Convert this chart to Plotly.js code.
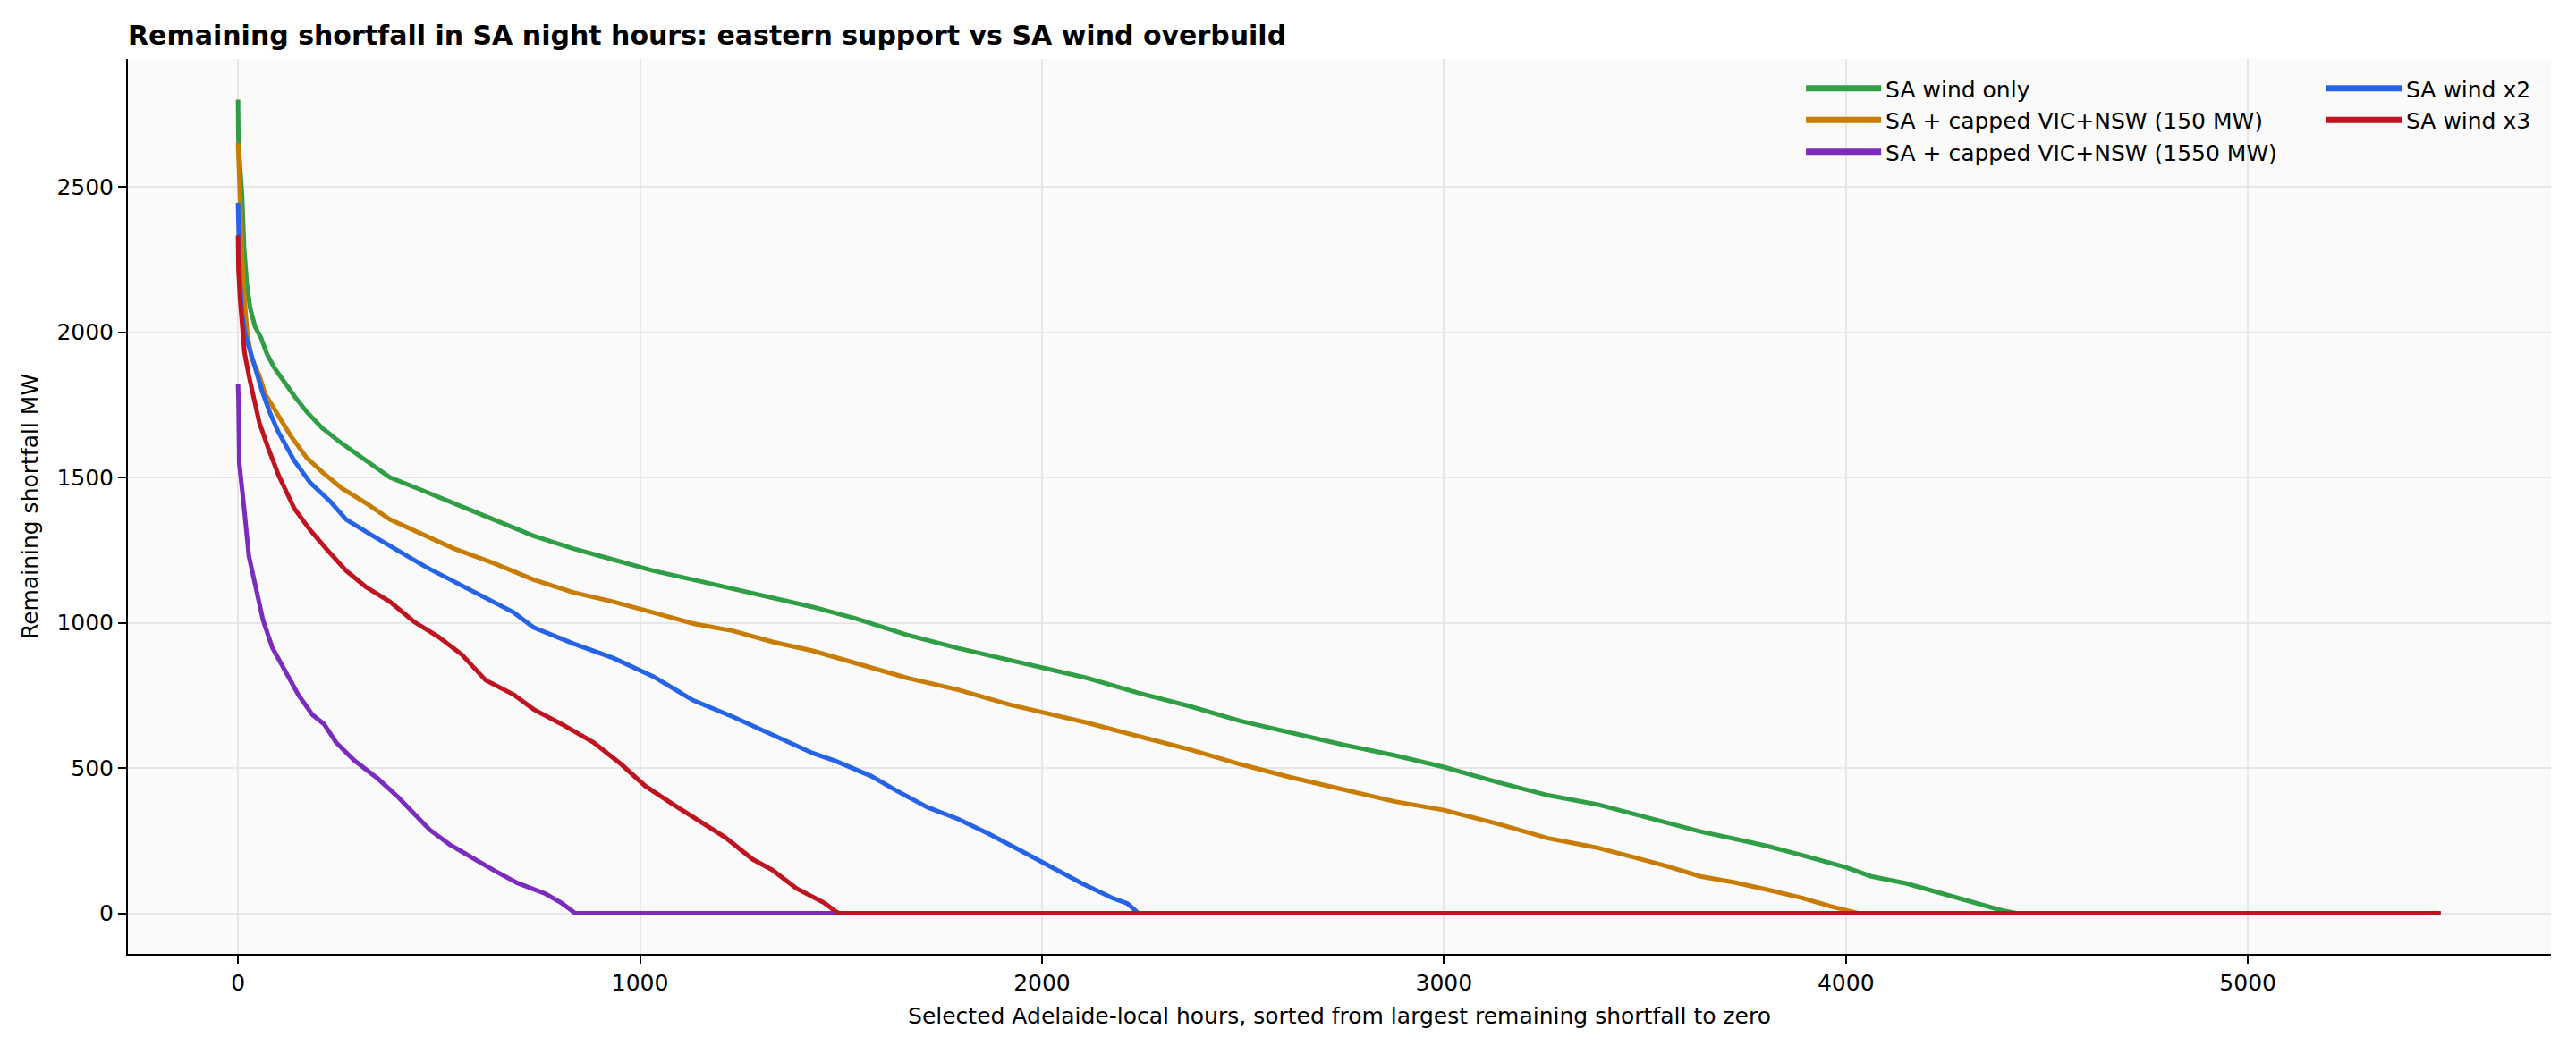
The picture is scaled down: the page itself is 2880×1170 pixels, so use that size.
<!DOCTYPE html>
<html>
<head>
<meta charset="utf-8">
<script src="https://cdn.plot.ly/plotly-3.0.1.min.js"></script>
<style>
  html, body { margin: 0; padding: 0; background: #ffffff; }
  #chart { width: 2880px; height: 1170px; }
</style>
</head>
<body>
<div id="chart"></div>
<script>
// sorted remaining shortfall curves (hours index, MW)
const windOnlyX = [0, 1, 5, 10, 15, 22, 30, 42, 57, 72, 90, 116, 142, 172, 209, 253, 318, 378, 457, 537, 636, 735, 834, 934, 1033, 1132, 1231, 1330, 1430, 1537, 1664, 1792, 1919, 2000, 2111, 2238, 2366, 2493, 2621, 2749, 2876, 3000, 3131, 3259, 3383, 3468, 3553, 3638, 3723, 3808, 3893, 4000, 4063, 4149, 4234, 4319, 4387, 4425, 5479];
const windOnlyY = [2800, 2660, 2566, 2474, 2289, 2166, 2084, 2020, 1981, 1925, 1878, 1827, 1776, 1724, 1670, 1622, 1557, 1500, 1456, 1412, 1355, 1299, 1255, 1217, 1179, 1148, 1116, 1085, 1054, 1014, 958, 912, 871, 846, 810, 759, 713, 662, 621, 580, 544, 503, 452, 406, 374, 343, 312, 281, 256, 230, 199, 158, 127, 103, 70, 37, 10, 0, 0];

const cap150X = [0, 2, 6, 12, 18, 23, 34, 53, 68, 90, 130, 170, 209, 259, 318, 378, 457, 537, 636, 735, 834, 934, 1033, 1132, 1231, 1330, 1430, 1537, 1664, 1792, 1919, 2000, 2111, 2238, 2366, 2493, 2621, 2749, 2876, 3000, 3131, 3259, 3383, 3468, 3553, 3638, 3723, 3808, 3893, 3961, 4021, 4030, 5479];
const cap150Y = [2650, 2560, 2400, 2200, 2080, 1991, 1909, 1850, 1786, 1735, 1645, 1569, 1519, 1462, 1412, 1355, 1305, 1255, 1205, 1148, 1104, 1072, 1035, 997, 972, 934, 903, 861, 810, 769, 718, 692, 656, 610, 564, 513, 467, 426, 385, 355, 309, 258, 225, 194, 163, 127, 106, 80, 52, 24, 5, 0, 0];

const cap1550X = [0, 1, 3, 10, 16, 27, 46, 62, 85, 120, 150, 185, 214, 244, 289, 348, 398, 442, 477, 527, 586, 636, 695, 765, 805, 839, 5479];
const cap1550Y = [1820, 1780, 1550, 1440, 1382, 1229, 1104, 1010, 915, 827, 752, 683, 651, 588, 526, 463, 400, 337, 287, 236, 186, 148, 104, 67, 35, 0, 0];

const windX2X = [0, 1, 4, 10, 18, 27, 46, 60, 79, 100, 140, 180, 229, 269, 328, 408, 467, 537, 606, 686, 735, 834, 934, 1033, 1132, 1231, 1330, 1430, 1486, 1575, 1639, 1715, 1792, 1868, 1945, 2021, 2098, 2174, 2213, 2240, 5479];
const windX2Y = [2445, 2330, 2200, 2060, 1990, 1950, 1855, 1796, 1724, 1657, 1557, 1481, 1418, 1355, 1305, 1242, 1192, 1142, 1091, 1035, 984, 928, 878, 815, 733, 676, 614, 551, 524, 472, 421, 365, 324, 273, 217, 161, 104, 53, 33, 0, 0];

const windX3X = [0, 1, 5, 10, 16, 27, 41, 53, 75, 101, 140, 180, 219, 269, 318, 378, 438, 497, 557, 616, 686, 735, 805, 884, 953, 1013, 1082, 1142, 1211, 1280, 1330, 1390, 1459, 1489, 1497, 5479];
const windX3Y = [2333, 2217, 2114, 2010, 1930, 1850, 1755, 1688, 1601, 1507, 1393, 1318, 1255, 1179, 1123, 1072, 1003, 953, 890, 802, 752, 702, 651, 588, 513, 438, 375, 324, 262, 186, 148, 85, 35, 4, 0, 0];

const seriesNames = ['SA wind only', 'SA + capped VIC+NSW (150 MW)', 'SA + capped VIC+NSW (1550 MW)', 'SA wind x2', 'SA wind x3'];
const seriesColors = ['#2f9e44', '#c87c02', '#7b2cbf', '#2563eb', '#c1121f'];
const legendIds = ['legend', 'legend', 'legend', 'legend2', 'legend2'];

const xTicks = [0, 1000, 2000, 3000, 4000, 5000];
const yTicks = [0, 500, 1000, 1500, 2000, 2500];

const makeLine = (x, y, i) => ({
    x: x,
    y: y,
    name: seriesNames[i],
    type: 'scatter',
    mode: 'lines',
    line: {color: seriesColors[i], width: 5},
    showlegend: false,
    hoverinfo: 'x+y+name',
});

// legend handles are drawn thicker than the data lines, like the original
const makeKey = (i) => ({
    x: [null],
    y: [null],
    name: seriesNames[i],
    type: 'scatter',
    mode: 'lines',
    line: {color: seriesColors[i], width: 7},
    legend: legendIds[i],
    hoverinfo: 'skip',
});

const data = [
    makeLine(windOnlyX, windOnlyY, 0),
    makeLine(cap150X, cap150Y, 1),
    makeLine(cap1550X, cap1550Y, 2),
    makeLine(windX2X, windX2Y, 3),
    makeLine(windX3X, windX3Y, 4),
].concat(seriesNames.map((n, i) => makeKey(i)));

const legendBase = {
    y: 0.99,
    yanchor: 'top',
    xanchor: 'left',
    bgcolor: 'rgba(0,0,0,0)',
    font: {size: 25, color: '#000000'},
    tracegroupgap: 0,
    itemwidth: 84,
};

const layout = {
    width: 2880,
    height: 1170,
    font: {family: 'DejaVu Sans', color: '#000000', size: 25},
    title: {
        text: '<b>Remaining shortfall in SA night hours: eastern support vs SA wind overbuild</b>',
        font: {size: 30, family: 'DejaVu Sans', color: '#000000'},
        xref: 'paper',
        x: 0,
        xanchor: 'left',
        yref: 'container',
        y: 0.966,
        yanchor: 'middle',
    },
    showlegend: true,
    legend: {...legendBase, x: 0.6907},
    legend2: {...legendBase, x: 0.9055},
    xaxis: {
        range: [-274, 5754],
        tickvals: xTicks,
        ticks: 'outside',
        ticklen: 9,
        tickwidth: 2,
        tickcolor: '#000000',
        showline: true,
        linecolor: '#000000',
        linewidth: 2,
        showgrid: true,
        gridcolor: '#e6e6e6',
        gridwidth: 1.5,
        zeroline: false,
        tickfont: {size: 25},
        title: {
            text: 'Selected Adelaide-local hours, sorted from largest remaining shortfall to zero',
            font: {size: 25},
            standoff: 14,
        },
    },
    yaxis: {
        range: [-140, 2940],
        tickvals: yTicks,
        ticks: 'outside',
        ticklen: 9,
        tickwidth: 2,
        tickcolor: '#000000',
        showline: true,
        linecolor: '#000000',
        linewidth: 2,
        showgrid: true,
        gridcolor: '#e6e6e6',
        gridwidth: 1.5,
        zeroline: false,
        tickfont: {size: 25},
        title: {
            text: 'Remaining shortfall MW',
            font: {size: 25},
            standoff: 14,
        },
    },
    plot_bgcolor: '#fafafa',
    paper_bgcolor: '#ffffff',
    margin: {l: 143, r: 28, t: 66, b: 103, pad: 0},
};

Plotly.newPlot('chart', data, layout, {displayModeBar: false, responsive: false});
</script>
</body>
</html>
